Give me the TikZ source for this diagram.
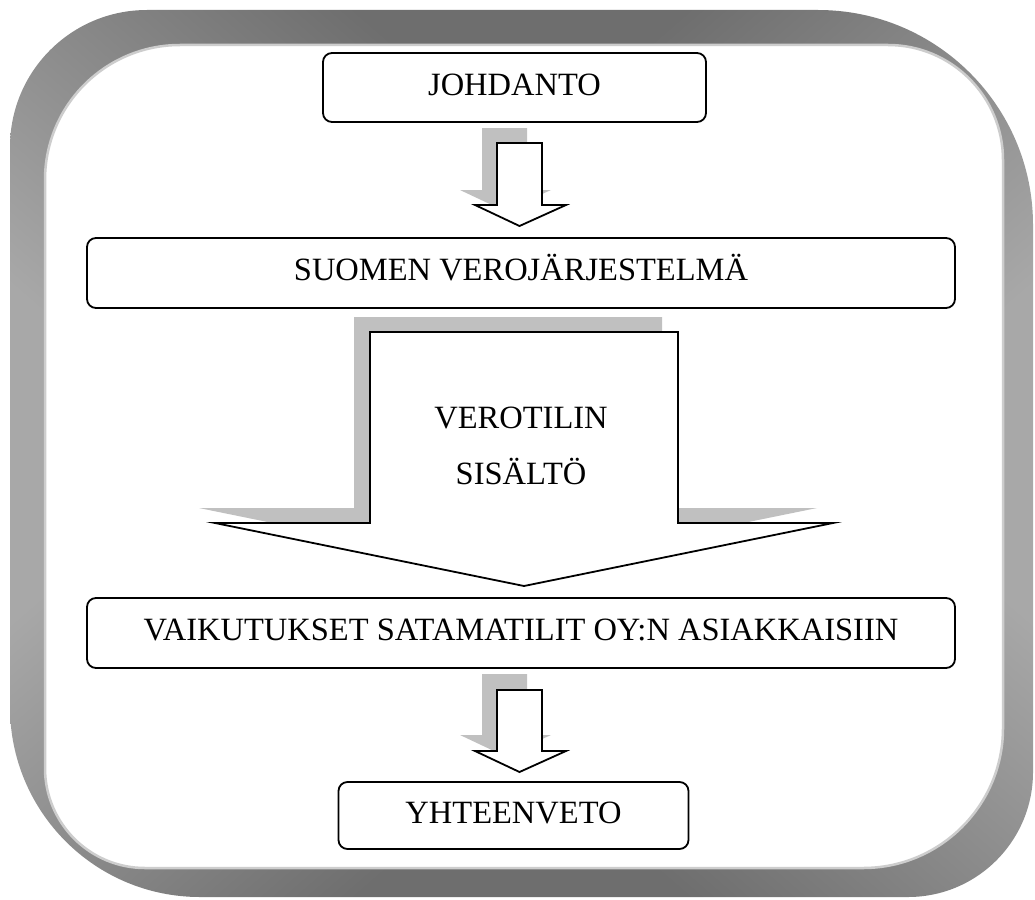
\documentclass[tikz,border=0pt]{standalone}
\usepackage{fontspec}
\setmainfont{Liberation Serif}
\definecolor{shadowgray}{HTML}{C0C0C0}
\definecolor{edgegray}{HTML}{CDCDCD}
\pgfdeclarefunctionalshading{framegray}{\pgfpoint{-50bp}{-50bp}}{\pgfpoint{50bp}{50bp}}{}{abs exch abs sub 0.007 mul 0.55 exch sub dup 0.43 lt {pop 0.43} if dup 0.66 gt {pop 0.66} if dup dup}
\begin{document}
\begin{tikzpicture}[x=1pt,y=-1pt,
  boxnode/.style={draw=black, rounded corners=9pt, line width=1.8pt, fill=white,
    font=\fontsize{32.5}{38}\selectfont, text height=21.5pt, text depth=6pt, inner sep=0pt},
  arrowtext/.style={font=\fontsize{32.5}{38}\selectfont, anchor=base, inner sep=0pt},
  blockarrow/.style={fill=white, draw=black, line width=1.8pt, line join=miter},
  arrowshadow/.style={fill=shadowgray}]
\useasboundingbox (0,0) rectangle (1035,899);
\fill[white] (0,0) rectangle (1035,899);
% frame band
\shade[shading=framegray]
  (10,147) .. controls (10,71.3) and (71.3,10) .. (147,10)
  -- (818,10) .. controls (936.7,10) and (1033,106.3) .. (1033,225)
  -- (1033,772) .. controls (1033,841) and (977,897) .. (908,897)
  -- (200,897) .. controls (95.1,897) and (10,811.9) .. (10,707) -- cycle;
\filldraw[fill=white, draw=edgegray, line width=2.5pt]
  (45,180) .. controls (45,105.4) and (105.4,45) .. (180,45)
  -- (888,45) .. controls (951.5,45) and (1003,96.5) .. (1003,160)
  -- (1003,728) .. controls (1003,805.3) and (940.3,868) .. (863,868)
  -- (145,868) .. controls (89.8,868) and (45,823.2) .. (45,768) -- cycle;
% arrow shadows
\fill[arrowshadow, shift={(-15,-15)}] (497,143) -- (542,143) -- (542,205) -- (566,205) -- (519.5,226) -- (475,205) -- (497,205) -- cycle;
\fill[arrowshadow, shift={(-16,-15)}] (370,332) -- (678,332) -- (678,523) -- (833,523) -- (524,586) -- (215,523) -- (370,523) -- cycle;
\fill[arrowshadow, shift={(-15,-16)}] (497,690) -- (542,690) -- (542,751) -- (566,751) -- (519.5,772) -- (475,751) -- (497,751) -- cycle;
% arrows
\draw[blockarrow] (497,143) -- (542,143) -- (542,205) -- (566,205) -- (519.5,226) -- (475,205) -- (497,205) -- cycle;
\draw[blockarrow] (370,332) -- (678,332) -- (678,523) -- (833,523) -- (524,586) -- (215,523) -- (370,523) -- cycle;
\draw[blockarrow] (497,690) -- (542,690) -- (542,751) -- (566,751) -- (519.5,772) -- (475,751) -- (497,751) -- cycle;
\node[arrowtext] (ver1) at (521,428) {VEROTILIN};
\node[arrowtext] (ver2) at (521,484) {SISÄLTÖ};
% boxes
\node[boxnode, minimum width=383, minimum height=69] (joh) at (514.5,87.5) {JOHDANTO};
\node[boxnode, minimum width=868, minimum height=70] (suo) at (521,273) {SUOMEN VEROJÄRJESTELMÄ};
\node[boxnode, minimum width=868, minimum height=70] (vai) at (521,633) {VAIKUTUKSET SATAMATILIT OY:N ASIAKKAISIIN};
\node[boxnode, minimum width=350, minimum height=67] (yht) at (513.5,815.5) {YHTEENVETO};
\end{tikzpicture}
\end{document}
